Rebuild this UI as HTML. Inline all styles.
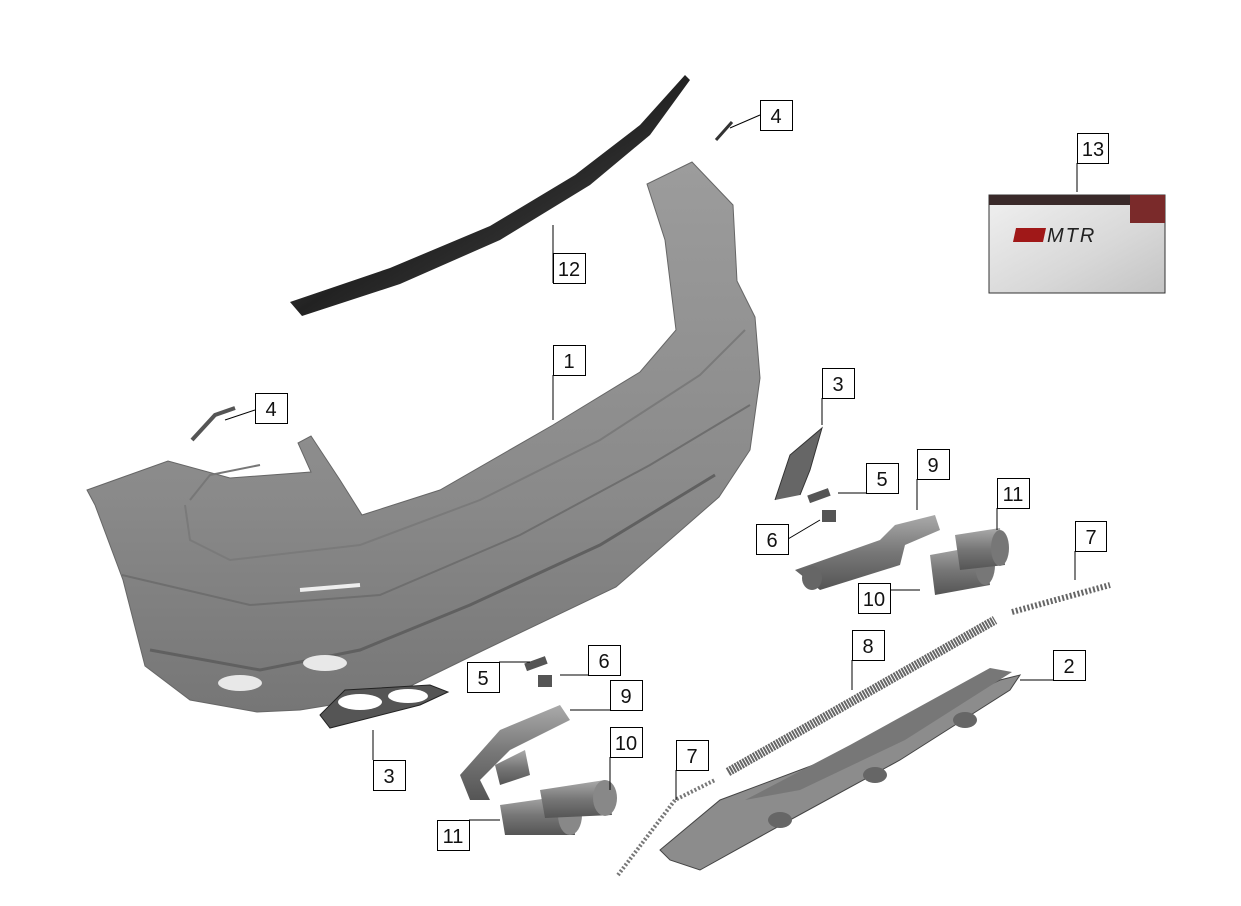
<!DOCTYPE html>
<html><head><meta charset="utf-8"><style>
html,body{margin:0;padding:0;background:#fff;}
svg{display:block;}
text{font-family:"Liberation Sans",sans-serif;font-size:20px;fill:#111;}
</style></head><body>
<svg width="1241" height="906" viewBox="0 0 1241 906" xmlns="http://www.w3.org/2000/svg">
<defs>
<linearGradient id="sp" x1="0" y1="0" x2="1" y2="1">
<stop offset="0" stop-color="#777"/><stop offset="0.5" stop-color="#222"/><stop offset="1" stop-color="#555"/></linearGradient>
<linearGradient id="bm" x1="0" y1="0" x2="0" y2="1">
<stop offset="0" stop-color="#9c9c9c"/><stop offset="0.6" stop-color="#8a8a8a"/><stop offset="1" stop-color="#767676"/></linearGradient>
<linearGradient id="ph" x1="0" y1="0" x2="1" y2="1">
<stop offset="0" stop-color="#f0f0f0"/><stop offset="0.6" stop-color="#d8d8d8"/><stop offset="1" stop-color="#c4c4c4"/></linearGradient>
<linearGradient id="pipe" x1="0" y1="0" x2="0" y2="1">
<stop offset="0" stop-color="#aaa"/><stop offset="0.5" stop-color="#777"/><stop offset="1" stop-color="#555"/></linearGradient>
</defs>

<!-- spoiler -->
<polygon points="290,302 302,316 400,284 500,240 590,185 650,135 690,80 685,75 640,125 575,175 490,226 390,268" fill="url(#sp)"/>

<!-- bumper -->
<path d="M87,490 L168,461 L230,478 L311,472 L298,443 L311,436 L340,480 L362,515 L440,490 L553,425 L640,372 L676,330 L665,240 L647,184 L692,162 L733,205 L737,281 L755,317 L760,378 L750,450 L719,497 L616,587 L482,651 L392,695 L300,710 L257,712 L190,700 L145,666 L123,580 L95,505 Z" fill="url(#bm)" stroke="#666" stroke-width="1"/>
<path d="M190,500 L210,475 L260,465" fill="none" stroke="#777" stroke-width="2"/>
<path d="M185,505 L190,540 L230,560 L360,545 L480,500 L600,440 L700,375 L745,330" fill="none" stroke="#7a7a7a" stroke-width="2"/>
<path d="M122,575 L250,605 L380,595 L520,535 L650,465 L750,405" fill="none" stroke="#6e6e6e" stroke-width="2"/>
<path d="M150,650 L260,670 L360,650 L470,605 L600,545 L715,475" fill="none" stroke="#606060" stroke-width="3"/>
<path d="M300,590 L360,585" stroke="#eee" stroke-width="4"/>
<ellipse cx="240" cy="683" rx="22" ry="8" fill="#e8e8e8"/><ellipse cx="325" cy="663" rx="22" ry="8" fill="#e8e8e8"/>

<!-- small parts -->
<path d="M716,140 L732,122" stroke="#333" stroke-width="3"/>
<path d="M192,440 L215,415 L235,408" stroke="#555" stroke-width="4" fill="none"/>
<path d="M775,500 L790,455 L822,428 L810,470 L800,495" fill="#666" stroke="#333"/>
<rect x="808" y="492" width="22" height="8" fill="#555" transform="rotate(-20 818 496)"/>
<rect x="822" y="510" width="14" height="12" fill="#555"/>
<rect x="525" y="660" width="22" height="8" fill="#555" transform="rotate(-20 535 664)"/>
<rect x="538" y="675" width="14" height="12" fill="#555"/>
<path d="M320,715 L345,690 L430,685 L448,692 L420,705 L330,728 Z" fill="#555" stroke="#222"/>
<ellipse cx="360" cy="702" rx="22" ry="8" fill="#fff"/><ellipse cx="408" cy="696" rx="20" ry="7" fill="#fff"/>

<!-- exhausts right -->
<path d="M795,570 L880,540 L895,525 L935,515 L940,530 L905,545 L900,565 L820,590 Z" fill="url(#pipe)"/>
<ellipse cx="812" cy="578" rx="10" ry="12" fill="#666"/>
<path d="M930,555 L985,545 L990,585 L935,595 Z" fill="url(#pipe)"/><ellipse cx="985" cy="565" rx="10" ry="20" fill="#777"/>
<path d="M955,535 L1000,528 L1005,565 L960,570 Z" fill="url(#pipe)"/><ellipse cx="1000" cy="548" rx="9" ry="18" fill="#777"/>

<!-- exhausts left -->
<path d="M460,775 L500,730 L560,705 L570,720 L510,750 L480,780 L490,800 L470,800 Z" fill="url(#pipe)"/>
<path d="M495,765 L525,750 L530,775 L500,785 Z" fill="url(#pipe)"/>
<path d="M500,805 L570,795 L575,835 L505,835 Z" fill="url(#pipe)"/><ellipse cx="570" cy="815" rx="12" ry="20" fill="#888"/>
<path d="M540,790 L605,780 L612,815 L545,818 Z" fill="url(#pipe)"/><ellipse cx="605" cy="798" rx="12" ry="18" fill="#888"/>

<!-- strips -->
<path d="M1012,612 L1110,585" stroke="#666" stroke-width="6" stroke-dasharray="2 2"/>
<path d="M728,772 L995,620" stroke="#666" stroke-width="9" stroke-dasharray="2 1"/>
<path d="M618,875 L675,800 L715,780" stroke="#777" stroke-width="4" stroke-dasharray="2 2" fill="none"/>

<!-- diffuser -->
<path d="M660,850 L720,800 L840,755 L1000,680 L1020,675 L1010,690 L900,760 L790,820 L700,870 L670,860 Z" fill="#8c8c8c" stroke="#444"/>
<path d="M745,800 L850,745 L990,668 L1012,672 L905,740 L800,790 Z" fill="#777"/>
<ellipse cx="780" cy="820" rx="12" ry="8" fill="#666"/><ellipse cx="875" cy="775" rx="12" ry="8" fill="#666"/><ellipse cx="965" cy="720" rx="12" ry="8" fill="#666"/>

<!-- photo 13 -->
<rect x="989" y="195" width="176" height="98" fill="url(#ph)" stroke="#333"/>
<rect x="989" y="195" width="176" height="10" fill="#3a2a2a"/>
<rect x="1130" y="195" width="35" height="28" fill="#7a2a2a"/>
<polygon points="1016,228 1046,228 1043,242 1013,242" fill="#a01818"/>
<text x="1047" y="242" style="font-size:20px;font-style:italic;fill:#222;letter-spacing:2px">MTR</text>

<!-- leader lines -->
<g stroke="#000" stroke-width="1" fill="none">
<path d="M760,115 L730,128"/><path d="M553,283 L553,225"/><path d="M553,375 L553,420"/>
<path d="M255,410 L225,420"/><path d="M1077,163 L1077,192"/><path d="M822,398 L822,425"/>
<path d="M866,493 L838,493"/><path d="M917,479 L917,510"/><path d="M997,508 L997,530"/>
<path d="M788,539 L820,520"/><path d="M1075,551 L1075,580"/><path d="M890,590 L920,590"/>
<path d="M852,660 L852,690"/><path d="M1053,680 L1020,680"/><path d="M588,675 L560,675"/>
<path d="M499,662 L530,662"/><path d="M610,710 L570,710"/><path d="M610,757 L610,790"/>
<path d="M373,760 L373,730"/><path d="M676,770 L676,800"/><path d="M469,820 L500,820"/>
</g>

<!-- label boxes -->
<g fill="#fff" stroke="#000" stroke-width="1">
<rect x="760.5" y="100.5" width="32" height="30"/><rect x="553.5" y="253.5" width="32" height="30"/>
<rect x="553.5" y="345.5" width="32" height="30"/><rect x="255.5" y="393.5" width="32" height="30"/>
<rect x="1077.5" y="133.5" width="31" height="30"/><rect x="822.5" y="368.5" width="32" height="30"/>
<rect x="866.5" y="463.5" width="32" height="30"/><rect x="917.5" y="449.5" width="32" height="30"/>
<rect x="997.5" y="478.5" width="32" height="30"/><rect x="756.5" y="524.5" width="32" height="30"/>
<rect x="1075.5" y="521.5" width="31" height="30"/><rect x="858.5" y="583.5" width="32" height="30"/>
<rect x="852.5" y="630.5" width="32" height="30"/><rect x="1053.5" y="650.5" width="32" height="30"/>
<rect x="588.5" y="645.5" width="32" height="30"/><rect x="467.5" y="662.5" width="32" height="30"/>
<rect x="610.5" y="680.5" width="32" height="30"/><rect x="610.5" y="727.5" width="32" height="30"/>
<rect x="373.5" y="760.5" width="32" height="30"/><rect x="676.5" y="740.5" width="32" height="30"/>
<rect x="437.5" y="820.5" width="32" height="30"/>
</g>
<g text-anchor="middle">
<text x="776" y="123">4</text><text x="569" y="276">12</text><text x="569" y="368">1</text>
<text x="271" y="416">4</text><text x="1093" y="156">13</text><text x="838" y="391">3</text>
<text x="882" y="486">5</text><text x="933" y="472">9</text><text x="1013" y="501">11</text>
<text x="772" y="547">6</text><text x="1091" y="544">7</text><text x="874" y="606">10</text>
<text x="868" y="653">8</text><text x="1069" y="673">2</text><text x="604" y="668">6</text>
<text x="483" y="685">5</text><text x="626" y="703">9</text><text x="626" y="750">10</text>
<text x="389" y="783">3</text><text x="692" y="763">7</text><text x="453" y="843">11</text>
</g>
</svg>
</body></html>
